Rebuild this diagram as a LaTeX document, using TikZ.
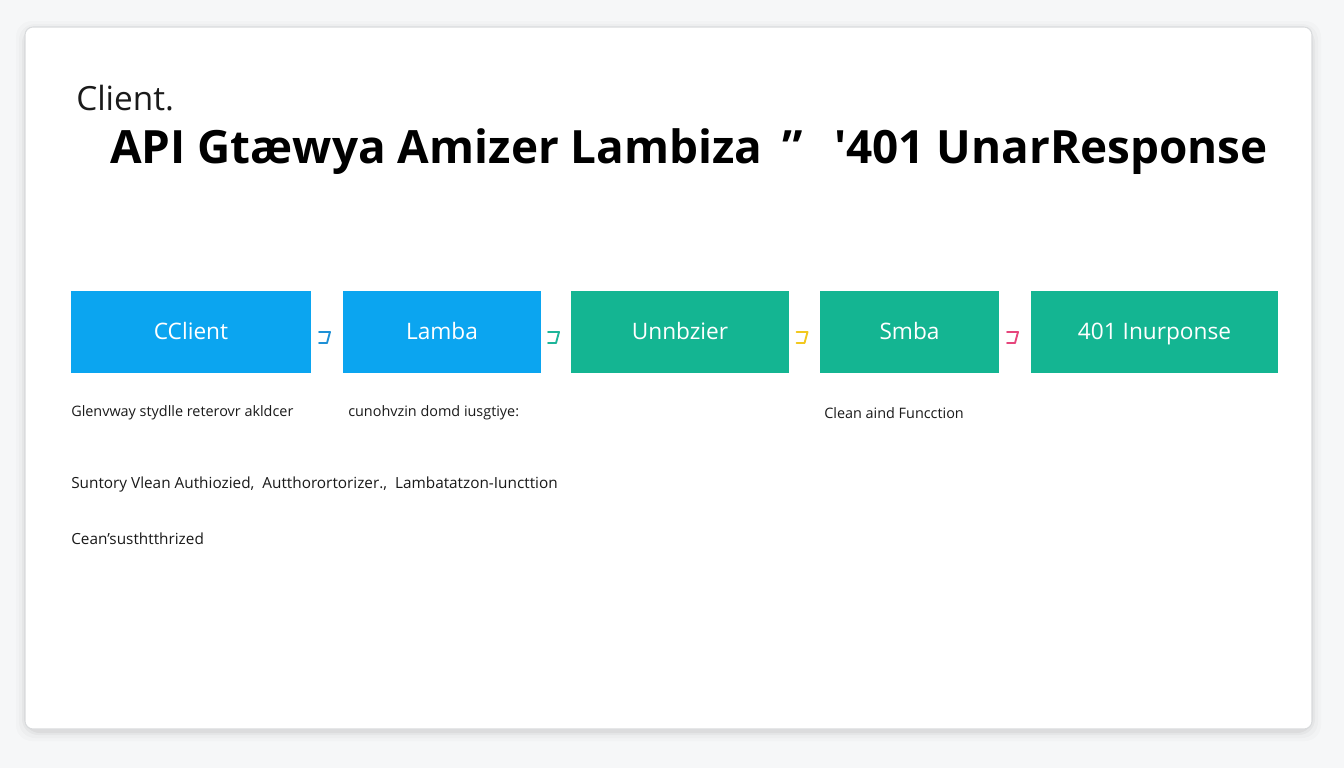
\documentclass[tikz,border=0pt]{standalone}
\usepackage{fontspec}
\setmainfont{Open Sans}
\newfontfamily\titlefont{Open Sans}[BoldFont={Open Sans Bold}]
\usetikzlibrary{calc}
\definecolor{bgc}{HTML}{F6F7F8}
\definecolor{cardline}{HTML}{D9DBDD}
\definecolor{boxblue}{HTML}{0BA5F0}
\definecolor{boxteal}{HTML}{14B592}
\definecolor{arblue}{HTML}{1E90D6}
\definecolor{arteal}{HTML}{1DB59A}
\definecolor{aryellow}{HTML}{F2C81E}
\definecolor{arpink}{HTML}{E6457C}
\definecolor{txt}{HTML}{1A1A1A}
\tikzset{
  box/.style={rectangle, inner sep=0pt, minimum height=61.5pt, text height=12.2pt, text depth=0.8pt, text=white, font=\fontsize{17}{19}\selectfont},
  bluebox/.style={box, fill=boxblue},
  tealbox/.style={box, fill=boxteal},
  lbl/.style={anchor=west, inner sep=0pt, text=txt, font=\fontsize{10.8}{13}\selectfont},
  lbl2/.style={anchor=west, inner sep=0pt, text=txt, font=\fontsize{11.5}{14}\selectfont},
  hook/.style={line width=1.4pt, line join=round, line cap=round}
}
\newcommand{\hookat}[2]{\draw[hook,#2] ($(#1)+(-8,-6)$) -- ($(#1)+(3,-6)$) -- ($(#1)+(0,5)$) -- ($(#1)+(-8,5)$);}
\begin{document}
\begin{tikzpicture}[x=0.75pt,y=-0.75pt]
\useasboundingbox (0,0) rectangle (1344,768);
\fill[bgc] (0,0) rectangle (1344,768);
% shadow
\foreach \i/\o in {9/0.015,6/0.02,3/0.03,1/0.04}{
  \fill[black,opacity=\o,rounded corners=12pt] (25-\i,27-\i+3) rectangle (1312+\i,729+\i+3);
}
\node[draw=cardline, fill=white, line width=0.8pt, rounded corners=6pt, inner sep=0pt, minimum width=965.25pt, minimum height=526.5pt] (card) at (668.5,378) {};
% titles
\node[anchor=base west, inner sep=0pt, text=txt, font=\fontsize{25}{28}\selectfont] (client) at (76,110) {Client.};
\node[anchor=base west, inner sep=0pt, text=black, font=\titlefont\bfseries\fontsize{34.4}{38}\selectfont] (title) at (110,163) {API Gtæwya Amizer Lambiza \,”\, \ '401 UnarResponse};
% boxes
\node[bluebox, minimum width=180pt] (b1) at (191,332) {CClient};
\node[bluebox, minimum width=148.5pt] (b2) at (442,332) {Lamba};
\node[tealbox, minimum width=163.5pt] (b3) at (680,332) {Unnbzier};
\node[tealbox, minimum width=134.25pt] (b4) at (909.5,332) {Smba};
\node[tealbox, minimum width=185.25pt] (b5) at (1154.5,332) {401 Inurponse};
% connectors
\coordinate (c12) at ($(b1.east)!0.5!(b2.west)+(0,6)$);
\coordinate (c23) at ($(b2.east)!0.5!(b3.west)+(0,6)$);
\coordinate (c34) at ($(b3.east)!0.5!(b4.west)+(0,6)$);
\coordinate (c45) at ($(b4.east)!0.5!(b5.west)+(0,6)$);
\hookat{c12}{arblue}
\hookat{c23}{arteal}
\hookat{c34}{aryellow}
\hookat{c45}{arpink}
% labels
\node[lbl] (l1) at (71,413) {Glenvway stydlle reterovr akldcer};
\node[lbl] (l2) at (348,413) {cunohvzin domd iusgtiye:};
\node[lbl] (l3) at (824,413) {Clean aind Funcction};
\node[lbl2] (l4) at (71,485) {Suntory Vlean Authiozied,\ \ Autthorortorizer.,\ \ Lambatatzon-Iuncttion};
\node[lbl2] (l5) at (71,539) {Cean’susthtthrized};
\end{tikzpicture}
\end{document}
